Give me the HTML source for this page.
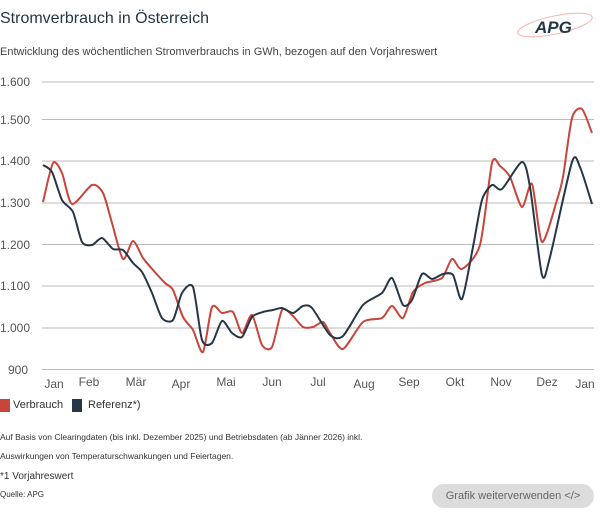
<!DOCTYPE html><html><head><meta charset="utf-8"><style>
body{margin:0;width:600px;height:514px;background:#fff;font-family:"Liberation Sans",sans-serif;position:relative;overflow:hidden;color:#333}
.a{position:absolute;white-space:nowrap}
</style></head><body>
<div class="a" style="left:0;top:10px;font-size:16px;color:#253746">Stromverbrauch in Österreich</div>
<div class="a" style="left:0;top:46px;font-size:11px;color:#444">Entwicklung des wöchentlichen Stromverbrauchs in GWh, bezogen auf den Vorjahreswert</div>
<svg class="a" style="left:515px;top:10px" width="80" height="32"><ellipse cx="40" cy="15" rx="38" ry="9" transform="rotate(-12 40 15)" fill="none" stroke="#f0b5b0" stroke-width="1"/><text x="20" y="23" font-size="17" font-style="italic" font-weight="bold" fill="#253746" font-family="Liberation Sans">APG</text></svg>
<svg class="a" style="left:0;top:0" width="600" height="400" font-family="Liberation Sans" font-size="12" fill="#555">
<g stroke="#bbb" stroke-width="1">
<line x1="42" x2="594" y1="82" y2="82"/><line x1="42" x2="594" y1="119.5" y2="119.5"/><line x1="42" x2="594" y1="161" y2="161"/><line x1="42" x2="594" y1="203" y2="203"/><line x1="42" x2="594" y1="244.5" y2="244.5"/><line x1="42" x2="594" y1="286" y2="286"/><line x1="42" x2="594" y1="328" y2="328"/><line x1="42" x2="594" y1="369.5" y2="369.5"/></g>
<g><text x="0" y="86">1.600</text><text x="0" y="124">1.500</text><text x="0" y="165">1.400</text><text x="0" y="207">1.300</text><text x="0" y="249">1.200</text><text x="0" y="290">1.100</text><text x="0" y="332">1.000</text><text x="8" y="374">900</text></g>
<g text-anchor="middle"><text x="54" y="388">Jan</text><text x="89" y="386">Feb</text><text x="136" y="386">Mär</text><text x="181" y="388">Apr</text><text x="226" y="386">Mai</text><text x="272" y="386">Jun</text><text x="318" y="386">Jul</text><text x="364" y="388">Aug</text><text x="409" y="386">Sep</text><text x="455" y="386">Okt</text><text x="501" y="386">Nov</text><text x="547" y="386">Dez</text><text x="585" y="388">Jan</text></g>
<path id="r" fill="none" stroke="#c8453a" stroke-width="2" stroke-linejoin="round"/>
<path id="n" fill="none" stroke="#253746" stroke-width="2" stroke-linejoin="round"/>
</svg>
<div class="a" style="left:0;top:399px;width:10px;height:13px;background:#c8453a"></div>
<div class="a" style="left:13px;top:399px;font-size:11px;color:#333">Verbrauch</div>
<div class="a" style="left:72px;top:399px;width:10px;height:13px;background:#253746"></div>
<div class="a" style="left:88px;top:399px;font-size:11px;color:#333">Referenz*)</div>
<div class="a" style="left:0;top:432px;font-size:8.5px">Auf Basis von Clearingdaten (bis inkl. Dezember 2025) und Betriebsdaten (ab Jänner  2026) inkl.</div>
<div class="a" style="left:0;top:451px;font-size:8.5px">Auswirkungen von Temperaturschwankungen und Feiertagen.</div>
<div class="a" style="left:0;top:471px;font-size:10px">*1 Vorjahreswert</div>
<div class="a" style="left:0;top:490px;font-size:8px">Quelle: APG</div>
<div class="a" style="left:432px;top:484px;width:162px;height:24px;border-radius:12px;background:#dcdcdc;color:#666;font-size:11px;line-height:24px;text-align:center">Grafik weiterverwenden &lt;/&gt;</div>
<script>
var R=[[43,202],[53,163],[62,173],[72,204],[92,185],[103,193],[112,223],[123,259],[133,241],[143,258],[153,270],[165,283],[173,290],[183,317],[193,330],[203,352],[212,307],[222,313],[233,312],[242,333],[252,315],[262,345],[272,347],[282,310],[292,315],[303,327],[313,327],[323,322],[330,333],[343,349],[363,322],[382,318],[392,306],[403,318],[413,292],[425,283],[442,278],[452,259],[462,269],[480,245],[492,163],[500,166],[510,177],[522,207],[532,184],[542,242],[557,200],[563,177],[572,118],[582,109],[592,133]];
var N=[[43,165],[52,172],[62,200],[73,212],[82,242],[92,245],[102,238],[113,249],[123,250],[133,263],[142,272],[152,293],[162,318],[173,320],[182,293],[193,287],[202,340],[212,343],[222,321],[232,333],[242,337],[252,317],[263,312],[273,310],[282,308],[293,313],[303,306],[312,308],[330,335],[343,336],[363,305],[382,293],[392,278],[403,305],[412,300],[422,274],[432,279],[443,274],[453,275],[462,299],[473,247],[482,200],[492,185],[502,189],[522,162],[530,187],[542,275],[550,257],[572,162],[580,167],[592,204]];
function sm(p){var k=8,d="M"+p[0];for(var i=0;i<p.length-1;i++){var a=p[i-1]||p[i],b=p[i],c=p[i+1],e=p[i+2]||c;d+="C"+(b[0]+(c[0]-a[0])/k)+","+(b[1]+(c[1]-a[1])/k)+" "+(c[0]-(e[0]-b[0])/k)+","+(c[1]-(e[1]-b[1])/k)+" "+c;}return d}
document.getElementById("n").setAttribute("d",sm(N));document.getElementById("r").setAttribute("d",sm(R));
</script>
</body></html>
